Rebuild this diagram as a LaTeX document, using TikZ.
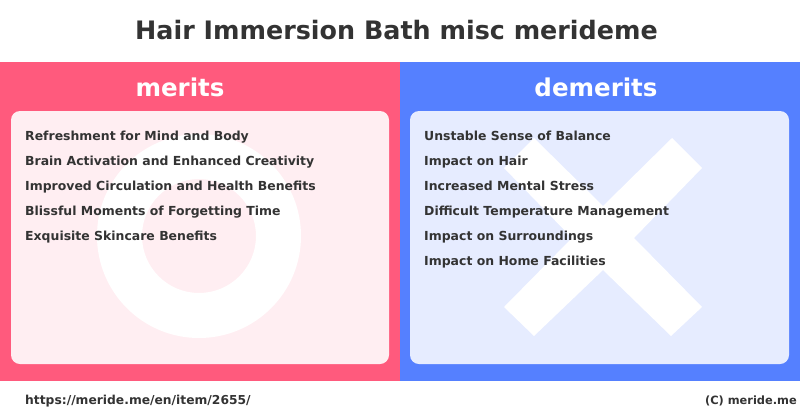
\documentclass[tikz,border=0pt]{standalone}
\usepackage{fontspec}
\setmainfont{DejaVu Sans}
\definecolor{redbg}{HTML}{FF5A7D}
\definecolor{bluebg}{HTML}{5580FF}
\definecolor{redpanel}{HTML}{FFEEF2}
\definecolor{bluepanel}{HTML}{E6ECFF}
\definecolor{ink}{HTML}{333333}
\tikzset{
 x=1pt,y=-1pt,
 item/.style={anchor=base west,inner sep=0pt,font=\fontsize{12.45}{15}\selectfont\bfseries,text=ink},
 head/.style={anchor=base,inner sep=0pt,font=\fontsize{24.5}{29}\selectfont\bfseries,text=white},
 foot/.style={inner sep=0pt,font=\bfseries,text=ink},
 panel/.style={rounded corners=9pt}
}
\begin{document}
\begin{tikzpicture}
\useasboundingbox (0,0) rectangle (800,418);
\fill[white] (0,0) rectangle (800,418);
\fill[redbg] (0,62) rectangle (400,381);
\fill[bluebg] (400,62) rectangle (800,381);
\fill[redpanel,panel] (11,111) rectangle (389,364);
\fill[bluepanel,panel] (410,111) rectangle (789,364);
\fill[white,even odd rule] (199,236) circle (102) (199,236) circle (57);
\fill[white] (534,138) -- (603,206) -- (672,138) -- (702,168) -- (634,238) -- (702,307) -- (671,336) -- (603,270) -- (534,336) -- (504,307) -- (572,238) -- (504,168) -- cycle;
\node[anchor=base,inner sep=0pt,font=\fontsize{25.4}{30}\selectfont\bfseries,text=ink] (title) at (396.5,39.5) {Hair Immersion Bath misc merideme};
\node[head] (m) at (180,96.5) {merits};
\node[head] (d) at (596,96.5) {demerits};
\node[item] (m1) at (25,140) {Refreshment for Mind and Body};
\node[item] (m2) at (25,165) {Brain Activation and Enhanced Creativity};
\node[item] (m3) at (25,190) {Improved Circulation and Health Benefits};
\node[item] (m4) at (25,215) {Blissful Moments of Forgetting Time};
\node[item] (m5) at (25,240) {Exquisite Skincare Benefits};
\node[item] (d1) at (424,140) {Unstable Sense of Balance};
\node[item] (d2) at (424,165) {Impact on Hair};
\node[item] (d3) at (424,190) {Increased Mental Stress};
\node[item] (d4) at (424,215) {Difficult Temperature Management};
\node[item] (d5) at (424,240) {Impact on Surroundings};
\node[item] (d6) at (424,265) {Impact on Home Facilities};
\node[foot,anchor=base west,font=\fontsize{12.3}{15}\selectfont\bfseries] (u) at (25,404.5) {https://meride.me/en/item/2655/};
\node[foot,anchor=base east,font=\fontsize{11.4}{14}\selectfont\bfseries] (c) at (797,404.5) {(C) meride.me};
\end{tikzpicture}
\end{document}
